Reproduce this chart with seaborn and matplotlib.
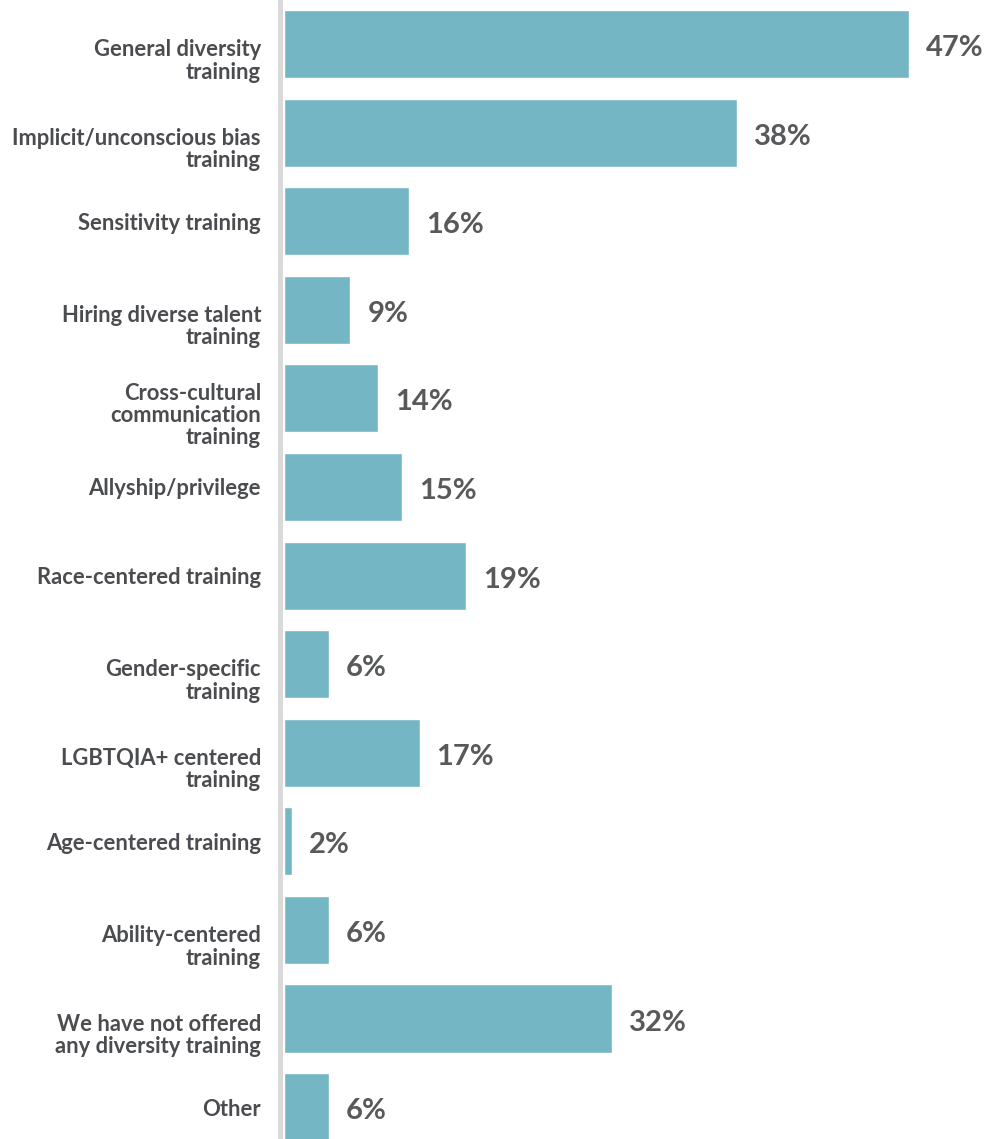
import matplotlib
matplotlib.use("Agg")
import matplotlib.pyplot as plt
import seaborn as sns
import pandas as pd

categories = [
    "General diversity\ntraining",
    "Implicit/unconscious bias\ntraining",
    "Sensitivity training",
    "Hiring diverse talent\ntraining",
    "Cross-cultural\ncommunication\ntraining",
    "Allyship/privilege",
    "Race-centered training",
    "Gender-specific\ntraining",
    "LGBTQIA+ centered\ntraining",
    "Age-centered training",
    "Ability-centered\ntraining",
    "We have not offered\nany diversity training",
    "Other",
]
# bar lengths as drawn in the picture (percent-equivalent units)
bar_lengths = [47.0, 34.1, 9.4, 5.0, 7.1, 8.9, 13.7, 3.4, 10.2, 0.6, 3.4, 24.7, 3.4]
value_labels = ["47%", "38%", "16%", "9%", "14%", "15%", "19%", "6%", "17%", "2%", "6%", "32%", "6%"]

df = pd.DataFrame({"category": categories, "length": bar_lengths})

sns.set_theme(style="white")
plt.rcParams["font.family"] = ["Lato", "DejaVu Sans"]

fig = plt.figure(figsize=(9.84, 11.39), dpi=100)
ax = fig.add_axes([284 / 984, 0, 700 / 984, 1])

sns.barplot(data=df, x="length", y="category", order=categories, color="#75b6c4",
            saturation=1, width=0.768, ax=ax)

ax.set_xlim(0, 700 / (625 / 47))
ax.set_ylim(12.36, -0.497)
ax.set_xlabel("")
ax.set_ylabel("")
ax.set_xticks([])
ax.set_yticks([])
for s in ["top", "right", "bottom"]:
    ax.spines[s].set_visible(False)
ax.spines["left"].set_visible(True)
ax.spines["left"].set_color("#d9d9d9")
ax.spines["left"].set_linewidth(3.6)
ax.spines["left"].set_position(("outward", 3))

for i, (cat, length, lab) in enumerate(zip(categories, bar_lengths, value_labels)):
    nlines = cat.count("\n") + 1
    shift = 2 + (15 if nlines > 1 else 0)
    ax.annotate(cat, xy=(0, i), xycoords="data", xytext=(-23, -shift),
                textcoords="offset pixels", ha="right", va="center",
                fontsize=15.8, fontweight="bold", color="#4a4c50",
                linespacing=1.08, annotation_clip=False)
    ax.annotate(lab, xy=(length, i), xycoords="data", xytext=(17, -4),
                textcoords="offset pixels", ha="left", va="center",
                fontsize=21, fontweight="bold", color="#58595b",
                annotation_clip=False)

fig.savefig("out.png", dpi=100)
